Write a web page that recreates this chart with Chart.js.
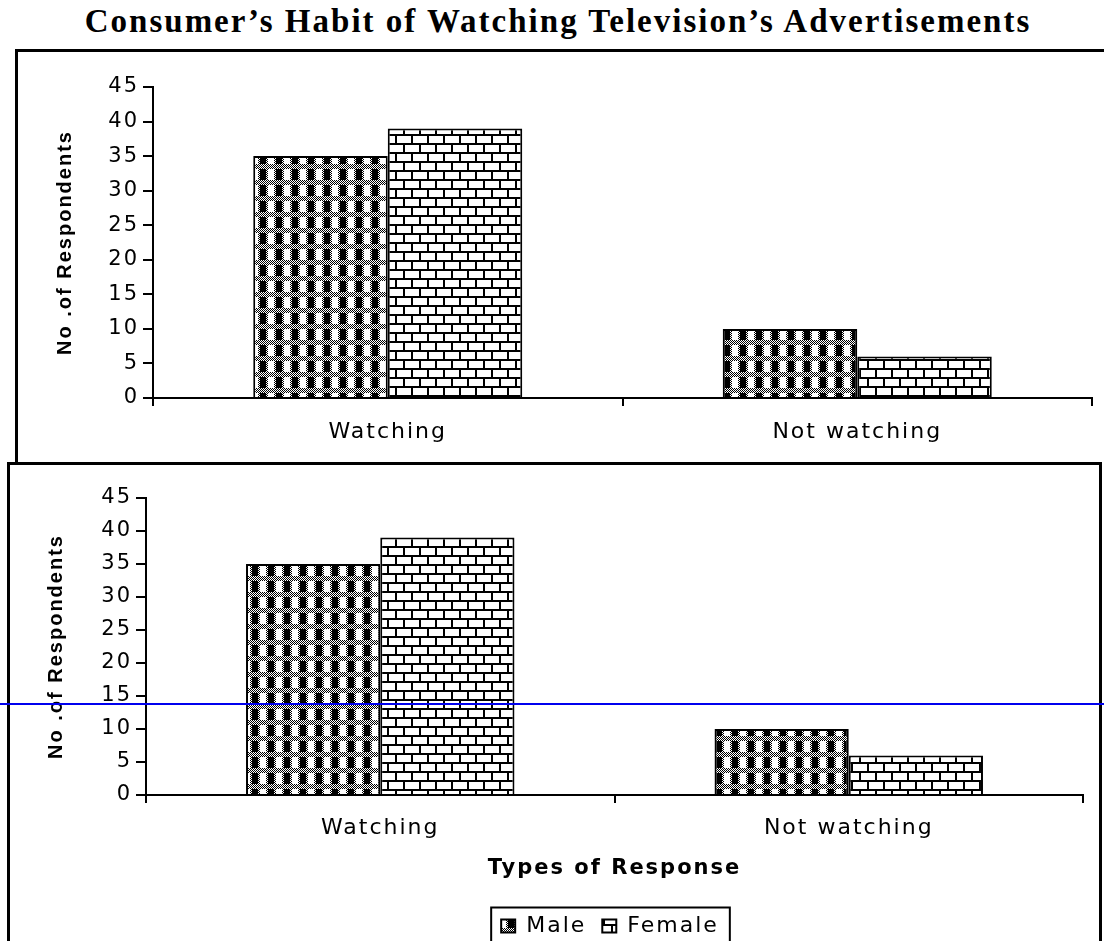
<!DOCTYPE html>
<html>
<head>
<meta charset="utf-8">
<script src="https://cdn.jsdelivr.net/npm/chart.js@4.4.1/dist/chart.umd.min.js"></script>
<style>
  html, body { margin: 0; padding: 0; background: #fff; overflow: hidden; }
  #page { position: relative; width: 1104px; height: 941px; overflow: hidden; }
  #title {
    position: absolute; left: 0; top: 5px; width: 1116px; text-align: center;
    font: bold 33px "Liberation Serif", "Times New Roman", serif; line-height: 33px;
    letter-spacing: 2px; white-space: nowrap; color: #000;
  }
  .box { position: absolute; box-sizing: border-box; border: 0 solid #000; }
  #box1 { left: 15px; top: 49px; width: 1100px; height: 414px; border-left-width: 3px; border-top-width: 3px; }
  #box2 { left: 7px; top: 462px; width: 1095px; height: 500px; border-left-width: 3px; border-top-width: 3px; border-right-width: 3px; background: #fff; }
  canvas { position: absolute; }
  #c1 { left: 19px; top: 53px; }
  #c2 { left: 11px; top: 465px; }
  #blue { position: absolute; left: 0; top: 703px; width: 1104px; height: 2px; background: #0000ee; }
</style>
</head>
<body>
<div id="page">
  <div id="title">Consumer’s Habit of Watching Television’s Advertisements</div>
  <div class="box" id="box1"></div>
  <div class="box" id="box2"></div>
  <canvas id="c1" width="1085" height="409"></canvas>
  <canvas id="c2" width="1088" height="482"></canvas>
  <div id="blue"></div>
</div>
<script>
// data
const categories = ["Watching", "Not watching"];
const seriesNames = ["Male", "Female"];
const maleValues = [35, 10];
const femaleValues = [39, 6];
const yMin = 0;
const yMax = 45;
const yStep = 5;
const yAxisTitle = "No .of Respondents";
const xAxisTitle = "Types of Response";

// hatch tiles like the old Excel fills
function makeTile(w, h, draw) {
  const c = document.createElement("canvas");
  c.width = w;
  c.height = h;
  const g = c.getContext("2d");
  g.fillStyle = "#fff";
  g.fillRect(0, 0, w, h);
  g.fillStyle = "#000";
  draw(g);
  return c;
}

const maleTile = makeTile(16, 16, g => {
  for (let y = 0; y < 16; y++) {
    for (let x = 0; x < 16; x++) {
      const band = y < 4 || y === 15 || x === 0 || x === 7 || x === 8 || x === 15;
      if (band && (x + y) % 2 === 0) g.fillRect(x, y, 1, 1);
    }
  }
  g.fillRect(1, 4, 6, 11);
});

const femaleTile = makeTile(16, 18, g => {
  g.fillRect(0, 0, 16, 2);
  g.fillRect(0, 9, 16, 2);
  g.fillRect(0, 2, 2, 7);
  g.fillRect(8, 11, 2, 7);
});

const textPlugin = {
  id: "textSpacing",
  beforeUpdate(chart) { chart.ctx.letterSpacing = "2px"; },
  beforeDraw(chart) { chart.ctx.letterSpacing = "2px"; }
};

// legend centred under the plot area, with a frame round it
const legendPlugin = {
  id: "legendFrame",
  afterLayout(chart) {
    const lg = chart.legend;
    if (!lg || !lg.options.display) return;
    lg.left = chart.chartArea.left - 9;
    lg.right = chart.chartArea.right;
    lg.width = lg.right - lg.left;
  },
  afterDraw(chart) {
    const lg = chart.legend;
    if (!lg || !lg.options.display) return;
    const hb = lg.legendHitBoxes;
    const last = hb[hb.length - 1];
    const x0 = hb[0].left - 10;
    const x1 = last.left + last.width + 11;
    const cy = hb[0].top + hb[0].height / 2;
    const ctx = chart.ctx;
    ctx.save();
    ctx.strokeStyle = "#000";
    ctx.lineWidth = 2;
    ctx.strokeRect(x0, cy - 18.5, x1 - x0, 37);
    ctx.restore();
  }
};

function buildChart(id, opt) {
  const ctx = document.getElementById(id).getContext("2d");
  const malePattern = ctx.createPattern(maleTile, "repeat");
  const femalePattern = ctx.createPattern(femaleTile, "repeat");

  return new Chart(ctx, {
    type: "bar",
    data: {
      labels: categories,
      datasets: [
        { label: seriesNames[0], data: maleValues, backgroundColor: malePattern, borderColor: "#000", borderWidth: 2, categoryPercentage: 0.573, barPercentage: 1 },
        { label: seriesNames[1], data: femaleValues, backgroundColor: femalePattern, borderColor: "#000", borderWidth: 2, categoryPercentage: 0.573, barPercentage: 1 }
      ]
    },
    options: {
      responsive: false,
      animation: false,
      layout: { padding: opt.padding },
      plugins: {
        tooltip: { enabled: false },
        legend: {
          display: opt.legend,
          position: "bottom",
          labels: {
            color: "#000",
            font: { family: "DejaVu Sans", size: 22 },
            boxWidth: 14,
            boxHeight: 13,
            padding: 16
          }
        }
      },
      scales: {
        x: {
          ticks: { color: "#000", font: { family: "DejaVu Sans", size: 22 }, padding: opt.xPad, maxRotation: 0 },
          grid: { offset: true, drawOnChartArea: false, drawTicks: true, tickLength: 8, color: "#000", lineWidth: 2 },
          border: { display: true, color: "#000", width: 2 },
          title: {
            display: opt.xTitle,
            text: xAxisTitle,
            color: "#000",
            font: { family: "DejaVu Sans", size: 21, weight: "bold" },
            padding: { top: 0, bottom: 18 }
          },
          afterFit: s => { s.height = opt.xHeight; }
        },
        y: {
          min: yMin,
          max: yMax,
          ticks: { stepSize: yStep, color: "#000", font: { family: "DejaVu Sans", size: 21 }, padding: 4 },
          grid: { drawOnChartArea: false, drawTicks: true, tickLength: 10, color: "#000", lineWidth: 2 },
          border: { display: true, color: "#000", width: 2 },
          title: {
            display: true,
            text: yAxisTitle,
            color: "#000",
            font: { family: "Liberation Sans", size: 20, weight: "bold" },
            padding: { top: opt.yTitlePad, bottom: 0 }
          },
          afterFit: s => { s.width = opt.yWidth; }
        }
      }
    },
    plugins: [textPlugin, legendPlugin]
  });
}

buildChart("c1", {
  padding: { left: 0, right: 12, top: 34, bottom: 0 },
  legend: false,
  xTitle: false,
  xPad: 13,
  xHeight: 64,
  yWidth: 134,
  yTitlePad: 34
});

buildChart("c2", {
  padding: { left: 0, right: 16, top: 33, bottom: 0 },
  legend: true,
  xTitle: true,
  xPad: 12,
  xHeight: 104,
  yWidth: 135,
  yTitlePad: 33
});
</script>
</body>
</html>
